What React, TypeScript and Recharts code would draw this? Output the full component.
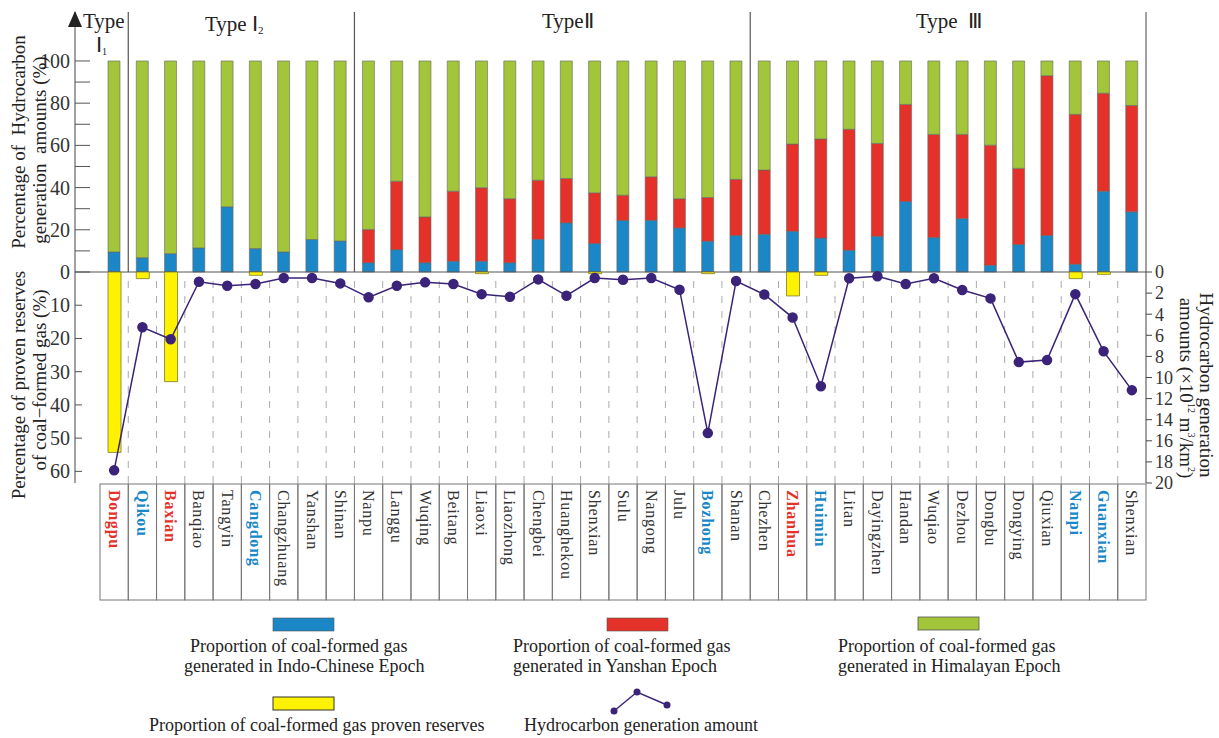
import React from "react";
import { Bar, ComposedChart, Line, ReferenceLine, XAxis, YAxis } from "recharts";

const basins = [
  "Dongpu", "Qikou", "Baxian", "Banqiao", "Tangyin", "Cangdong", "Changzhuang", "Yanshan", "Shinan",
  "Nanpu", "Langgu", "Wuqing", "Beitang", "Liaoxi", "Liaozhong", "Chengbei", "Huanghekou", "Shenxian",
  "Sulu", "Nangong", "Julu", "Bozhong", "Shanan",
  "Chezhen", "Zhanhua", "Huimin", "Litan", "Dayingzhen", "Handan", "Wuqiao", "Dezhou", "Dongbu",
  "Dongying", "Qiuxian", "Nanpi", "Guanxian", "Shenxian",
];

// % of coal-formed gas generated per epoch
const indoChinese = [
  9.5, 6.8, 8.7, 11.4, 30.9, 11.1, 9.5, 15.4, 14.7,
  4.4, 10.6, 4.4, 5.1, 5.1, 4.4, 15.5, 23.3, 13.5, 24.4, 24.5, 20.9, 14.6, 17.3,
  17.9, 19.3, 16.1, 10.3, 16.9, 33.4, 16.3, 25.3, 3.2, 13.0, 17.3, 3.7, 38.3, 28.5,
];
const yanshan = [
  0, 0, 0, 0, 0, 0, 0, 0, 0,
  15.7, 32.4, 21.7, 33.2, 34.8, 30.3, 28.0, 21.0, 24.0, 12.0, 20.6, 13.8, 20.7, 26.6,
  30.4, 41.3, 46.9, 57.3, 44.0, 46.0, 48.9, 39.9, 56.9, 36.1, 75.7, 71.0, 46.4, 50.4,
];
const himalayan = [
  90.5, 93.2, 91.3, 88.6, 69.1, 88.9, 90.5, 84.6, 85.3,
  79.9, 57.0, 73.9, 61.7, 60.1, 65.3, 56.5, 55.7, 62.5, 63.6, 54.9, 65.3, 64.7, 56.1,
  51.7, 39.4, 37.0, 32.4, 39.1, 20.6, 34.8, 34.8, 39.9, 50.9, 7.0, 25.3, 15.3, 21.1,
];
// % of proven reserves of coal-formed gas
const reserves = [
  54.3, 2.0, 33.0, 0, 0, 1.0, 0, 0, 0,
  0, 0, 0, 0, 0.5, 0, 0, 0, 0.5, 0, 0, 0, 0.5, 0,
  0, 7.2, 1.0, 0, 0, 0, 0, 0, 0, 0, 0, 2.0, 0.7, 0,
];
// hydrocarbon generation amount (x10^12 m3/km2)
const generation = [
  18.8, 5.24, 6.38, 0.92, 1.3, 1.14, 0.57, 0.57, 1.08,
  2.4, 1.3, 0.98, 1.14, 2.1, 2.35, 0.7, 2.25, 0.57, 0.73, 0.57, 1.68, 15.27, 0.86,
  2.13, 4.32, 10.83, 0.6, 0.41, 1.14, 0.6, 1.71, 2.5, 8.54, 8.35, 2.1, 7.52, 11.2,
];

const redNames = ["Dongpu", "Baxian", "Zhanhua"];
const blueNames = ["Qikou", "Cangdong", "Bozhong", "Huimin", "Nanpi", "Guanxian"];
const typeStarts = [1, 9, 23];
const topTicks = [0, 10, 20, 30, 40, 50, 60, 70, 80, 90, 100];
const lowTicks = [0, 10, 20, 30, 40, 50, 60];
const rightTicks = [0, 2, 4, 6, 8, 10, 12, 14, 16, 18, 20];

const BLUE = "#1b87c6";
const RED = "#e4312a";
const GREEN = "#a2c53a";
const YELLOW = "#fff200";
const PURPLE = "#3a2378";
const FONT = '"Liberation Serif", "Times New Roman", serif';
const BAND = (1146 - 100) / basins.length;

const data = basins.map((name, i) => ({
  key: `${name}-${i}`,
  indo: indoChinese[i],
  yanshan: yanshan[i],
  himalayan: himalayan[i],
  reserves: reserves[i],
  gen: generation[i],
}));

const TopTick = (props: any) => {
  const { x, y, payload } = props;
  return (
    <g>
      <line x1={x + 4} x2={x + 19} y1={y} y2={y} stroke="#555" />
      {payload.value % 20 === 0 && payload.value > 0 && (
        <text x={x - 1} y={y} textAnchor="end" dominantBaseline="central" fontSize={20} fill="#333" fontFamily={FONT}>
          {payload.value}
        </text>
      )}
    </g>
  );
};

const LowTick = (props: any) => {
  const { x, y, payload } = props;
  return (
    <g>
      {payload.value > 0 && <line x1={x + 4} x2={x + 11} y1={y} y2={y} stroke="#555" />}
      <text x={x - 1} y={y} textAnchor="end" dominantBaseline="central" fontSize={20} fill="#333" fontFamily={FONT}>
        {payload.value}
      </text>
    </g>
  );
};

const TableTick = (props: any) => {
  const { x, y, index } = props;
  const name = basins[index];
  const color = redNames.includes(name) ? RED : blueNames.includes(name) ? BLUE : "#333";
  const bold = color !== "#333";
  return (
    <g>
      <rect x={x - BAND / 2} y={y + 1} width={BAND} height={116} fill="none" stroke="#777" />
      <text
        x={x}
        y={y + 7}
        transform={`rotate(90 ${x} ${y + 7})`}
        dominantBaseline="central"
        fontSize={16}
        letterSpacing={0.8}
        fontWeight={bold ? 700 : 400}
        fill={color}
        fontFamily={FONT}
      >
        {name}
      </text>
    </g>
  );
};

const txt = { fontFamily: FONT, fill: "#222" };

export default function App() {
  return (
    <div style={{ position: "absolute", left: 0, top: 0, width: 1219, height: 738, background: "#fff" }}>
      <div style={{ position: "absolute", left: 0, top: 0 }}>
        <ComposedChart width={1219} height={274} data={data} margin={{ top: 12, right: 73, bottom: 2, left: 15 }} barSize={12}>
          <XAxis dataKey="key" hide padding={{ left: 25, right: 0 }} />
          <YAxis
            width={60}
            domain={[0, 123.2]}
            ticks={topTicks}
            interval={0}
            tick={<TopTick />}
            tickSize={0}
            tickMargin={4}
            tickLine={false}
            axisLine={{ stroke: "#444" }}
          />
          <Bar dataKey="indo" stackId="a" fill={BLUE} stroke="#666" strokeWidth={0.6} isAnimationActive={false} />
          <Bar dataKey="yanshan" stackId="a" fill={RED} stroke="#666" strokeWidth={0.6} isAnimationActive={false} />
          <Bar dataKey="himalayan" stackId="a" fill={GREEN} stroke="#666" strokeWidth={0.6} isAnimationActive={false} />
          <ReferenceLine y={0} stroke="#555" />
          {typeStarts.map((i) => (
            <ReferenceLine key={i} x={data[i].key} position="start" stroke="#555" strokeWidth={1.2} />
          ))}
          <ReferenceLine x={data[data.length - 1].key} position="end" stroke="#444" />
        </ComposedChart>
      </div>

      <div style={{ position: "absolute", left: 0, top: 262 }}>
        <ComposedChart width={1219} height={341} data={data} margin={{ top: 10, right: 13, bottom: 3, left: 15 }} barSize={13}>
          <XAxis
            dataKey="key"
            padding={{ left: 25, right: 0 }}
            height={117}
            interval={0}
            tickSize={0}
            tickMargin={0}
            tick={<TableTick />}
            axisLine={false}
            tickLine={false}
          />
          <YAxis
            yAxisId="l"
            width={60}
            reversed
            domain={[0, 63.5]}
            ticks={lowTicks}
            interval={0}
            tick={<LowTick />}
            tickSize={0}
            tickMargin={4}
            tickLine={false}
            axisLine={{ stroke: "#444" }}
          />
          <YAxis
            yAxisId="r"
            orientation="right"
            width={60}
            reversed
            domain={[0, 20]}
            ticks={rightTicks}
            interval={0}
            tickSize={6}
            tickMargin={3}
            tickLine={{ stroke: "#444" }}
            axisLine={{ stroke: "#444" }}
            tick={{ fontSize: 18, fill: "#333", fontFamily: FONT }}
          />
          {data.slice(1).map((d) => (
            <ReferenceLine key={d.key} yAxisId="l" x={d.key} position="start" stroke="#aaa" strokeDasharray="7 8" />
          ))}
          <Bar yAxisId="l" dataKey="reserves" fill={YELLOW} stroke="#7a7a30" strokeWidth={0.8} isAnimationActive={false} />
          <Line
            yAxisId="r"
            dataKey="gen"
            stroke={PURPLE}
            strokeWidth={1.5}
            dot={{ r: 4.5, fill: PURPLE, stroke: PURPLE }}
            isAnimationActive={false}
          />
        </ComposedChart>
      </div>

      <svg width={1219} height={738} style={{ position: "absolute", left: 0, top: 0, pointerEvents: "none" }}>
        <polygon points="75,11 68,27 82,27" fill="#222" />
        <text x={83} y={28} fontSize={21} {...txt}>Type</text>
        <text x={96} y={52} fontSize={21} {...txt}>
          Ⅰ<tspan fontSize={10} dy={3}>1</tspan>
        </text>
        <text x={205} y={31} fontSize={21} {...txt}>
          Type Ⅰ<tspan fontSize={11} dy={3}>2</tspan>
        </text>
        <text x={542} y={28} fontSize={21} {...txt}>TypeⅡ</text>
        <text x={916} y={28} fontSize={21} {...txt} xmlSpace="preserve">Type  Ⅲ</text>

        <text x={25} y={142} transform="rotate(-90 25 142)" textAnchor="middle" fontSize={19} {...txt} xmlSpace="preserve">
          Percentage of  Hydrocarbon
        </text>
        <text x={46} y={150} transform="rotate(-90 46 150)" textAnchor="middle" fontSize={19} {...txt} xmlSpace="preserve">
          generation  amounts (%)
        </text>
        <text x={25} y={385} transform="rotate(-90 25 385)" textAnchor="middle" fontSize={19} {...txt}>
          Percentage of proven reserves
        </text>
        <text x={46} y={380} transform="rotate(-90 46 380)" textAnchor="middle" fontSize={19} {...txt}>
          of coal−formed gas (%)
        </text>

        <text x={1200} y={385} transform="rotate(90 1200 385)" textAnchor="middle" fontSize={19} {...txt}>
          Hydrocarbon generation
        </text>
        <text x={1180} y={388} transform="rotate(90 1180 388)" textAnchor="middle" fontSize={19} {...txt}>
          amounts (×10<tspan fontSize={10} dy={-8}>12</tspan>
          <tspan dy={8}> m</tspan>
          <tspan fontSize={10} dy={-8}>3</tspan>
          <tspan dy={8}>/km</tspan>
          <tspan fontSize={10} dy={-8}>2</tspan>
          <tspan dy={8}>)</tspan>
        </text>

        <rect x={273} y={618} width={61} height={13} fill={BLUE} stroke="#555" strokeWidth={0.6} />
        <rect x={607} y={618} width={61} height={13} fill={RED} stroke="#555" strokeWidth={0.6} />
        <rect x={918} y={617} width={61} height={13} fill={GREEN} stroke="#555" strokeWidth={0.8} />
        <rect x={273} y={697} width={61} height={13} fill={YELLOW} stroke="#333" strokeWidth={1} />
        <polyline points="614,711 637,692 667,705" fill="none" stroke={PURPLE} strokeWidth={1.5} />
        <circle cx={614} cy={711} r={3.5} fill={PURPLE} />
        <circle cx={637} cy={692} r={3.5} fill={PURPLE} />
        <circle cx={667} cy={705} r={3.5} fill={PURPLE} />

        <text x={190} y={652} fontSize={18} {...txt}>Proportion of coal-formed gas</text>
        <text x={184} y={672} fontSize={18} {...txt}>generated in Indo-Chinese Epoch</text>
        <text x={513} y={652} fontSize={18} {...txt}>Proportion of coal-formed gas</text>
        <text x={513} y={672} fontSize={18} {...txt}>generated in Yanshan Epoch</text>
        <text x={838} y={652} fontSize={18} {...txt}>Proportion of coal-formed gas</text>
        <text x={838} y={672} fontSize={18} {...txt}>generated in Himalayan Epoch</text>
        <text x={149} y={731} fontSize={18} {...txt}>Proportion of coal-formed gas proven reserves</text>
        <text x={524} y={731} fontSize={18} {...txt}>Hydrocarbon generation amount</text>
      </svg>
    </div>
  );
}
